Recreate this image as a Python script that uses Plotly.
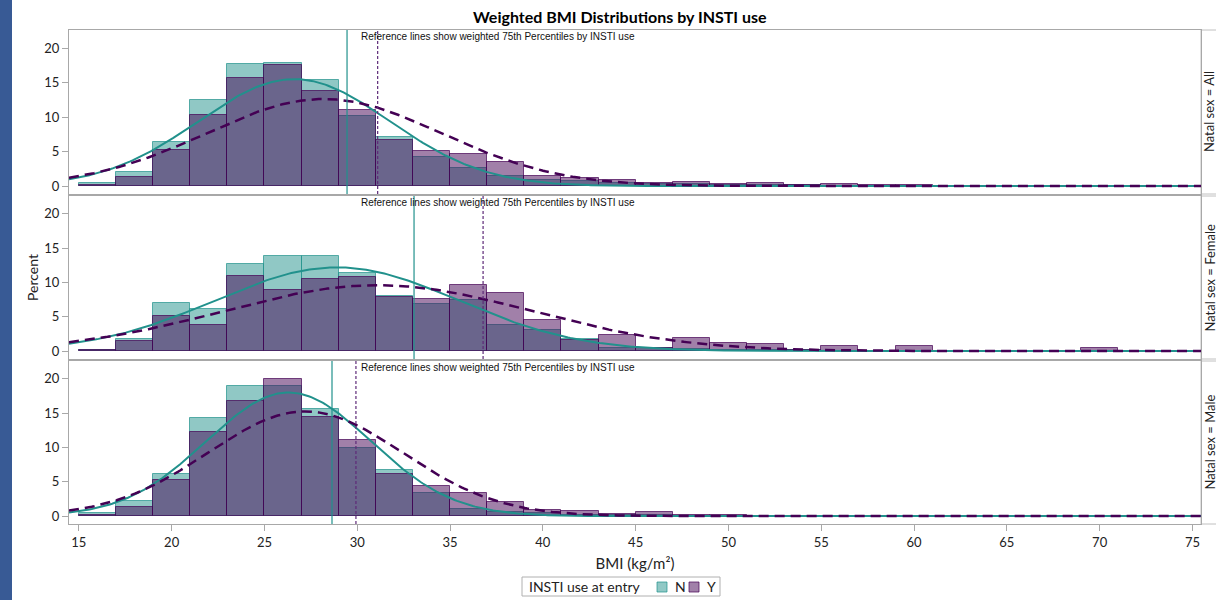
import numpy as np
import plotly.graph_objects as go
from plotly.subplots import make_subplots

# ---------------- data ----------------
bin_left = list(range(15, 75, 2))           # 2-unit bins from 15 to 75
bin_centers = [b + 1 for b in bin_left]

all_N = [0.4, 2.1, 6.4, 12.5, 17.7, 17.8, 15.3, 10.2, 7.1, 4.2, 2.6, 1.5, 0.9, 0.7, 0.4,
         0.3, 0.3, 0.15, 0.1, 0.1, 0.05, 0.05, 0, 0, 0, 0, 0, 0, 0, 0]
all_Y = [0.15, 1.3, 5.2, 10.3, 15.6, 17.6, 13.8, 11.0, 6.6, 5.1, 4.7, 3.5, 1.4, 1.1, 0.8,
         0.5, 0.6, 0.3, 0.45, 0.2, 0.3, 0.1, 0.1, 0.05, 0, 0, 0, 0, 0, 0]

fem_N = [0.1, 1.8, 7.0, 6.2, 12.7, 13.8, 13.8, 11.4, 8.0, 6.8, 7.4, 3.8, 3.1, 1.7, 0.5,
         0.4, 0.3, 0.2, 0.1, 0.1, 0, 0, 0, 0, 0, 0, 0, 0, 0, 0]
fem_Y = [0.1, 1.4, 5.1, 3.8, 11.0, 8.9, 10.5, 10.8, 7.95, 7.6, 9.6, 8.5, 4.6, 1.6, 2.4,
         0.4, 1.9, 1.15, 1.0, 0.1, 0.75, 0, 0.7, 0, 0, 0, 0, 0.4, 0, 0]

male_N = [0.4, 2.2, 6.2, 14.3, 19.0, 19.0, 15.6, 9.9, 6.7, 3.3, 1.1, 0.6, 0.4, 0.2, 0.1,
          0.1, 0.05, 0, 0, 0, 0, 0, 0, 0, 0, 0, 0, 0, 0, 0]
male_Y = [0.2, 1.3, 5.2, 12.2, 16.85, 20.0, 14.5, 11.1, 6.1, 4.4, 3.4, 2.0, 0.9, 0.8, 0.3,
          0.55, 0.2, 0.1, 0, 0, 0, 0, 0, 0, 0, 0, 0, 0, 0, 0]

# fitted normal density parameters (mean, sd) per panel and group
norm_mean_N = [26.6, 28.9, 26.3]
norm_sd_N = [5.15, 6.54, 4.43]
norm_mean_Y = [28.2, 31.1, 27.2]
norm_sd_Y = [6.33, 8.31, 5.23]

# weighted 75th percentiles
p75_N = [29.45, 33.06, 28.64]
p75_Y = [31.1, 36.78, 29.93]

panel_labels = ["Natal sex = All", "Natal sex = Female", "Natal sex = Male"]
groups = ["N", "Y"]
legend_title = "INSTI use at entry"
x_ticks = list(range(15, 80, 5))
y_ticks = [0, 5, 10, 15, 20]

# ---------------- styling ----------------
TEAL = "#21918c"
PURP = "#440154"
FILL = ["rgba(33,145,140,0.5)", "rgba(68,1,84,0.5)"]
EDGE = ["rgba(33,145,140,0.7)", "rgba(68,1,84,0.7)"]
FONT = "Lato"
XR = [14.47, 75.46]
YR = [-1.16, 22.61]

panels = [(all_N, all_Y), (fem_N, fem_Y), (male_N, male_Y)]

fig = make_subplots(rows=3, cols=1, shared_xaxes=True, vertical_spacing=0.004)

xs = np.linspace(XR[0], XR[1], 500)

def norm_pct(x, m, s):
    # percent scale for 2-unit bins
    return 100 * 2 / (s * np.sqrt(2 * np.pi)) * np.exp(-0.5 * ((x - m) / s) ** 2)

for i, (vn, vy) in enumerate(panels):
    r = i + 1
    for g, vals in enumerate([vn, vy]):
        fig.add_trace(go.Bar(x=bin_centers, y=vals, width=2, name=groups[g],
                             legendgroup=groups[g], showlegend=False,
                             marker=dict(color=FILL[g], line=dict(color=EDGE[g], width=1))),
                      row=r, col=1)
    fig.add_trace(go.Scatter(x=xs, y=norm_pct(xs, norm_mean_N[i], norm_sd_N[i]), mode="lines",
                             line=dict(color=TEAL, width=2), showlegend=False, hoverinfo="skip"),
                  row=r, col=1)
    fig.add_trace(go.Scatter(x=xs, y=norm_pct(xs, norm_mean_Y[i], norm_sd_Y[i]), mode="lines",
                             line=dict(color=PURP, width=2.5, dash="10px,6px"),
                             showlegend=False, hoverinfo="skip"),
                  row=r, col=1)

# domains (pixel-tuned)
L, R = 69, 1201
PW = R - L
H_TOP, H_BOT = 30, 524
PH = H_BOT - H_TOP
def px(x):
    return (x - L) / PW
def py(y):
    return (H_BOT - y) / PH
def dom(top_px, bot_px):
    return [py(bot_px), py(top_px)]
domains = [dom(30, 194), dom(196, 359), dom(361, 524)]

shapes = []
annotations = []
for i in range(3):
    r = i + 1
    xa = "xaxis" if r == 1 else f"xaxis{r}"
    ya = "yaxis" if r == 1 else f"yaxis{r}"
    xref = "x" if r == 1 else f"x{r}"
    yref = "y" if r == 1 else f"y{r}"
    fig.layout[ya].update(domain=domains[i], range=YR, tickvals=y_ticks,
                          showline=True, mirror=True, linecolor="#a8a8a8", linewidth=1,
                          ticks="outside", ticklen=6, tickcolor="#a8a8a8",
                          showgrid=False, zeroline=False,
                          tickfont=dict(family=FONT, size=13, color="#222"))
    fig.layout[xa].update(range=XR, tickvals=x_ticks, showline=True, mirror=True,
                          linecolor="#a8a8a8", linewidth=1, showgrid=False, zeroline=False,
                          ticks="outside" if r == 3 else "", ticklen=6, tickcolor="#a8a8a8",
                          showticklabels=(r == 3),
                          tickfont=dict(family=FONT, size=13, color="#222"))
    # reference lines
    shapes.append(dict(type="line", xref=xref, yref=f"{yref} domain", x0=p75_N[i], x1=p75_N[i],
                       y0=0, y1=1, line=dict(color=TEAL, width=1.2)))
    shapes.append(dict(type="line", xref=xref, yref=f"{yref} domain", x0=p75_Y[i], x1=p75_Y[i],
                       y0=0, y1=1, line=dict(color="#5e2a78", width=1.2, dash="3px,2px")))
    # reference text
    annotations.append(dict(text="Reference lines show weighted 75th Percentiles by INSTI use",
                            xref="paper", yref=f"{yref} domain", x=px(359), y=1,
                            xanchor="left", yanchor="top", yshift=1, showarrow=False,
                            font=dict(family="Liberation Sans", size=10, color="#111")))
    # right strip
    shapes.append(dict(type="rect", xref="paper", yref="paper", x0=1.0, x1=1.03,
                       y0=domains[i][0], y1=domains[i][1], fillcolor="white",
                       line=dict(color="#c0c0c0", width=1), layer="below"))
    annotations.append(dict(text=panel_labels[i], xref="paper", yref="paper",
                            x=px(1209), y=sum(domains[i]) / 2, textangle=-90,
                            showarrow=False, xanchor="center", yanchor="middle",
                            font=dict(family=FONT, size=13, color="#222")))

# left blue band
shapes.append(dict(type="rect", xref="paper", yref="paper", x0=px(0), x1=px(12),
                   y0=-2, y1=2, fillcolor="#385a95", line=dict(width=0), layer="below"))

annotations.append(dict(text="Percent", xref="paper", yref="paper", x=px(32), y=0.5,
                        textangle=-90, showarrow=False, xanchor="center", yanchor="middle",
                        font=dict(family=FONT, size=14, color="#222")))
annotations.append(dict(text="<b>Weighted BMI Distributions by INSTI use</b>", xref="paper",
                        yref="paper", x=px(620), y=py(16),
                        xanchor="center", yanchor="middle", showarrow=False,
                        font=dict(family=FONT, size=16, color="#000")))

# legend (drawn as box, swatches and text)
shapes.append(dict(type="rect", xref="paper", yref="paper", x0=px(522), x1=px(720),
                   y0=py(596), y1=py(577), fillcolor="white",
                   line=dict(color="#b0b0b0", width=1)))
annotations.append(dict(text=legend_title, xref="paper", yref="paper", x=px(527), y=py(586.5),
                        xanchor="left", yanchor="middle", showarrow=False,
                        font=dict(family=FONT, size=14, color="#222")))
sw_x = [657, 689]
for g in range(2):
    shapes.append(dict(type="rect", xref="paper", yref="paper", x0=px(sw_x[g]),
                       x1=px(sw_x[g] + 10), y0=py(592), y1=py(582),
                       fillcolor=FILL[g], line=dict(color=EDGE[g], width=1)))
    annotations.append(dict(text=groups[g], xref="paper", yref="paper", x=px(sw_x[g] + 16),
                            y=py(586.5), xanchor="left", yanchor="middle", showarrow=False,
                            font=dict(family=FONT, size=14, color="#222")))

fig.layout.xaxis3.title = dict(text="BMI (kg/m²)", standoff=9,
                               font=dict(family=FONT, size=15, color="#222"))

fig.update_layout(
    width=1216, height=600,
    margin=dict(l=L, r=1216 - R, t=H_TOP, b=600 - H_BOT, autoexpand=False),
    barmode="overlay",
    bargap=0,
    plot_bgcolor="white", paper_bgcolor="white",
    shapes=shapes, annotations=annotations,
    showlegend=False,
    font=dict(family=FONT),
)

fig.write_html("out.html", config={"displayModeBar": False},
               post_script="document.body.style.margin='0';document.body.style.overflow='hidden';")
